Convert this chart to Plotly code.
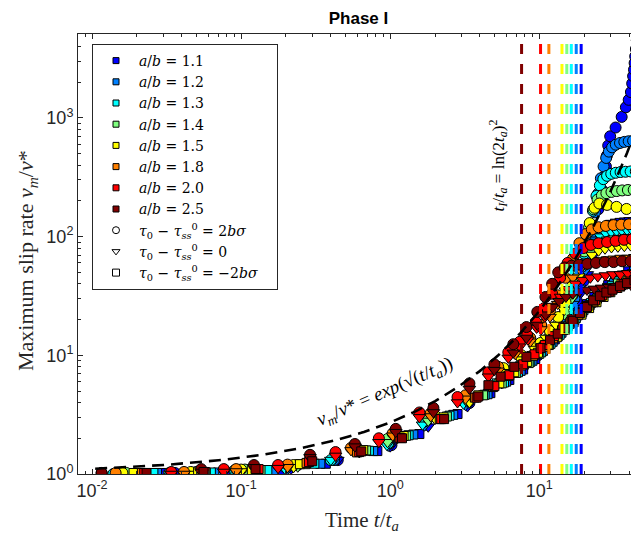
import numpy as np
import plotly.graph_objects as go

# ---------------- data ----------------
ab_values = [1.1, 1.2, 1.3, 1.4, 1.5, 1.8, 2.0, 2.5]
ab_colors = ["#0000ff", "#0080ff", "#00ffff", "#80ff80", "#ffff00", "#ff8000", "#ff0000", "#800000"]
tI_values = [19.1, 17.7, 16.4, 15.3, 14.2, 11.6, 10.2, 7.61]

# circles: tau0 - tau_ss = 2 b sigma
t_circ_11 = [0.0145, 0.036, 0.1, 0.216, 0.445, 1.02, 1.75, 3.4, 5.9, 7.8, 9.8, 11.8, 13.8, 15.8, 17.8, 19.8, 21.6, 23.4, 24.9, 26.2, 27.2, 28.0, 28.4, 29.0, 29.9, 32.5, 35.7, 38.1, 39.8, 41.2, 42.0, 42.6, 43.2, 43.6, 44.0, 44.5, 45.1]
v_circ_11 = [1.0, 1.02, 1.07, 1.15, 1.31, 1.75, 2.6, 3.96, 6.2, 8.0, 10, 12.5, 16, 21, 29, 42, 70, 110, 170, 250, 320, 390, 480, 585, 700, 830, 1020, 1230, 1420, 1650, 1950, 2250, 2550, 2900, 3300, 3800, 4500]
t_circ_12 = [0.0142, 0.034, 0.094, 0.205, 0.42, 0.98, 1.7, 3.3, 5.7, 7.6, 9.5, 11.5, 13.4, 15.3, 17.2, 19.0, 20.7, 22.2, 23.6, 24.8, 25.9, 27.0, 28.1, 29.3, 30.8, 32.6, 34.8, 37.2, 39.8, 42.6, 45.6]
v_circ_12 = [1.0, 1.02, 1.07, 1.15, 1.31, 1.8, 2.7, 4.0, 6.3, 8.2, 10.2, 12.8, 16.5, 22, 30, 44, 68, 105, 160, 230, 310, 390, 460, 520, 565, 595, 615, 628, 636, 642, 646]
t_circ_13 = [0.0139, 0.033, 0.09, 0.197, 0.4, 0.97, 1.68, 3.25, 5.6, 7.5, 9.4, 11.3, 13.1, 14.9, 16.7, 18.4, 20.0, 21.5, 22.9, 24.2, 25.5, 26.9, 28.5, 30.4, 32.6, 35.1, 37.9, 41, 44.4]
v_circ_13 = [1.0, 1.02, 1.07, 1.15, 1.31, 1.82, 2.75, 4.1, 6.4, 8.4, 10.5, 13.2, 17, 23, 32, 47, 72, 110, 165, 220, 270, 305, 325, 338, 345, 350, 352, 354, 355]
t_circ_14 = [0.017, 0.05, 0.106, 0.24, 0.62, 0.96, 1.8, 3.2, 6.0, 7.9, 9.8, 11.5, 13.2, 14.9, 16.6, 18.3, 20.0, 21.6, 23.1, 24.6, 26.3, 28.2, 30.5, 33.1, 36.0, 39.3, 43.0, 47.0]
v_circ_14 = [1.02, 1.04, 1.09, 1.19, 1.6, 1.97, 2.95, 4.45, 7.5, 9.5, 11.5, 14, 18, 24, 33, 48, 75, 120, 170, 205, 222, 232, 238, 242, 245, 247, 248, 249]
t_circ_15 = [0.016, 0.046, 0.1, 0.225, 0.6, 1.12, 2.0, 3.4, 5.75, 7.6, 9.4, 10.2, 11.8, 13.4, 15.0, 16.6, 18.3, 20.0, 21.8, 23.5, 25.3, 28.5, 33.0, 38.5, 45.0]
v_circ_15 = [1.02, 1.04, 1.09, 1.19, 1.62, 2.1, 3.1, 4.3, 7.8, 10, 12, 12.7, 16, 21, 28, 38, 55, 85, 130, 175, 190, 185, 178, 171, 164]
t_circ_18 = [0.0144, 0.0414, 0.0926, 0.205, 0.546, 1.04, 1.87, 3.2, 5.3, 6.9, 8.7, 10.3, 11.8, 13.3, 15.0, 16.8, 18.6, 20.5, 22.5, 25.0, 28.0, 31.5, 35.5, 40.0, 45.0]
v_circ_18 = [1.02, 1.04, 1.1, 1.2, 1.66, 2.2, 3.25, 4.6, 8.0, 11, 14, 18, 24, 32, 45, 65, 88, 105, 115, 120, 123, 125, 126, 127, 128]
t_circ_20 = [0.0116, 0.034, 0.0766, 0.177, 0.43, 0.84, 1.57, 2.83, 4.56, 6.2, 7.4, 8.3, 9.5, 10.8, 12.2, 13.8, 15.5, 17.5, 19.7, 22.2, 25.0, 28.5, 32.5, 37.0, 42.0, 47.0]
v_circ_20 = [1.02, 1.04, 1.1, 1.19, 1.53, 2.0, 3.3, 4.45, 7.2, 10.6, 13, 14.8, 19, 25, 33, 45, 60, 72, 80, 85, 88, 90, 92, 94, 95, 96]
t_circ_25 = [0.0116, 0.054, 0.122, 0.29, 0.58, 1.09, 1.95, 3.4, 5.0, 6.7, 8.2, 9.7, 11.0, 12.2, 13.4, 14.8, 16.5, 18.5, 21.0, 24.0, 27.5, 31.5, 36.0, 41.0, 46.5]
v_circ_25 = [1.02, 1.1, 1.19, 1.45, 1.79, 2.4, 3.6, 5.8, 8.4, 12.4, 17.3, 23.2, 31, 40, 50, 55, 57, 58, 59, 60, 61, 61, 62, 62, 63]

# triangles: tau0 - tau_ss = 0
t_tri_11 = [0.036, 0.1, 0.216, 0.445, 1.0, 1.8, 3.3, 5.6, 7.6, 9.6, 11.6, 13.6, 15.5, 17.4, 19.2, 21.0, 22.8, 24.6, 26.5, 28.5, 30.7, 33.0, 35.5, 38.0, 40.7, 43.5, 46.5]
v_tri_11 = [1.0, 1.03, 1.1, 1.31, 1.7, 2.5, 3.7, 5.8, 7.6, 9.6, 12, 15, 19, 25, 34, 48, 68, 92, 112, 124, 130, 133, 135, 136, 137, 137, 138]
t_tri_12 = [0.034, 0.094, 0.205, 0.42, 0.97, 1.7, 3.2, 5.4, 7.4, 9.3, 11.2, 13.1, 15.0, 16.8, 18.6, 20.4, 22.2, 24.0, 25.9, 27.9, 30.0, 32.4, 35.0, 37.7, 40.5, 43.5, 46.6]
v_tri_12 = [1.0, 1.03, 1.1, 1.31, 1.72, 2.55, 3.8, 5.9, 7.8, 9.8, 12.4, 15.6, 20, 27, 37, 52, 72, 94, 110, 119, 124, 127, 128, 129, 130, 130, 131]
t_tri_13 = [0.033, 0.09, 0.197, 0.4, 0.95, 1.65, 3.1, 5.3, 7.2, 9.1, 11.0, 12.9, 14.7, 16.5, 18.3, 20.1, 21.9, 23.8, 25.8, 28.0, 30.4, 33.0, 35.8, 38.8, 42.0, 45.5]
v_tri_13 = [1.0, 1.03, 1.1, 1.31, 1.75, 2.6, 3.9, 6.0, 8.0, 10.2, 13, 16.5, 22, 30, 41, 56, 74, 90, 100, 106, 109, 111, 112, 113, 113, 114]
t_tri_14 = [0.05, 0.106, 0.24, 0.62, 0.96, 1.8, 3.2, 5.9, 7.8, 9.6, 11.4, 13.1, 14.8, 16.5, 18.2, 20.0, 21.9, 24.0, 26.3, 28.8, 31.6, 34.7, 38.0, 41.6, 45.5]
v_tri_14 = [1.0, 1.05, 1.15, 1.52, 1.85, 2.8, 4.2, 7.0, 9.0, 11, 13.5, 17, 22, 30, 42, 58, 74, 85, 91, 94, 96, 97, 98, 98, 99]
t_tri_15 = [0.046, 0.1, 0.225, 0.6, 1.12, 2.0, 3.4, 5.7, 7.5, 9.3, 11.1, 12.9, 14.7, 16.5, 18.4, 20.4, 22.6, 25.0, 27.6, 30.5, 33.7, 37.2, 41.0, 45.2]
v_tri_15 = [1.0, 1.05, 1.14, 1.55, 2.0, 2.9, 4.0, 7.2, 9.2, 11.3, 14, 18, 24, 33, 46, 60, 70, 76, 79, 81, 82, 83, 84, 84]
t_tri_18 = [0.0414, 0.0926, 0.205, 0.546, 1.04, 1.87, 3.2, 5.3, 6.9, 8.7, 10.3, 11.8, 13.3, 15.0, 16.8, 18.7, 20.8, 23.1, 25.7, 28.6, 31.8, 35.4, 39.4, 43.8]
v_tri_18 = [1.0, 1.05, 1.14, 1.58, 2.1, 3.05, 4.3, 7.4, 10.2, 13, 16.5, 21, 27, 35, 45, 53, 58, 61, 63, 64, 65, 66, 66, 67]
t_tri_20 = [0.034, 0.0766, 0.177, 0.43, 0.84, 1.57, 2.83, 4.56, 6.2, 7.4, 8.4, 9.6, 10.9, 12.3, 13.9, 15.6, 17.5, 19.6, 22.0, 24.7, 27.8, 31.2, 35.0, 39.2, 44.0]
v_tri_20 = [1.0, 1.04, 1.12, 1.42, 1.85, 3.0, 4.0, 6.6, 9.5, 11.8, 13.5, 17, 21, 26, 31, 36, 40, 43, 45, 46, 47, 48, 48, 49, 49]
t_tri_25 = [0.054, 0.122, 0.29, 0.58, 1.09, 1.95, 3.4, 5.0, 6.7, 8.2, 9.7, 11.0, 12.3, 13.6, 15.1, 16.8, 18.7, 20.9, 23.4, 26.2, 29.4, 33.0, 37.0, 41.5, 46.5]
v_tri_25 = [1.04, 1.14, 1.38, 1.7, 2.25, 3.3, 5.2, 7.5, 10.5, 14, 18, 22, 25.5, 28.5, 31, 33, 34.5, 35.5, 36.3, 37, 37.5, 38, 38.4, 38.7, 39]

# squares: tau0 - tau_ss = -2 b sigma
t_sq_11 = [0.0298, 0.079, 0.185, 0.37, 0.82, 1.57, 2.83, 4.7, 6.3, 7.8, 9.4, 11.0, 12.7, 14.5, 16.5, 18.6, 20.9, 23.4, 26.1, 29.0, 32.2, 35.7, 39.5, 43.7]
v_sq_11 = [1.02, 1.03, 1.08, 1.22, 1.56, 2.17, 3.2, 4.8, 6.2, 7.6, 9.3, 11.3, 13.6, 16.3, 19.5, 23, 27, 31, 35, 39, 43, 47, 51, 55]
t_sq_12 = [0.0273, 0.07, 0.165, 0.34, 0.77, 1.43, 2.65, 4.5, 6.0, 7.5, 9.0, 10.6, 12.3, 14.1, 16.0, 18.1, 20.4, 22.9, 25.6, 28.5, 31.7, 35.2, 39.0, 43.2, 47.5]
v_sq_12 = [1.02, 1.03, 1.08, 1.22, 1.56, 2.15, 3.15, 4.7, 6.0, 7.4, 9.0, 10.9, 13.0, 15.5, 18.4, 21.7, 25.3, 29, 33, 37, 40.5, 44, 47.5, 51, 54]
t_sq_13 = [0.0258, 0.0627, 0.15, 0.31, 0.72, 1.33, 2.5, 4.3, 5.8, 7.2, 8.7, 10.3, 11.9, 13.7, 15.6, 17.6, 19.8, 22.2, 24.8, 27.6, 30.7, 34.1, 37.8, 41.9, 46.3]
v_sq_13 = [1.02, 1.03, 1.08, 1.22, 1.57, 2.12, 3.1, 4.65, 5.9, 7.2, 8.8, 10.6, 12.5, 14.9, 17.6, 20.6, 24, 27.6, 31.2, 35, 38.5, 42, 45.3, 48.5, 51.5]
t_sq_14 = [0.0205, 0.058, 0.135, 0.27, 0.69, 1.28, 2.4, 4.2, 5.6, 7.0, 8.5, 10.0, 11.6, 13.3, 15.2, 17.2, 19.4, 21.8, 24.4, 27.2, 30.3, 33.7, 37.4, 41.5, 46.0]
v_sq_14 = [1.02, 1.03, 1.08, 1.21, 1.58, 2.1, 3.05, 4.6, 5.8, 7.1, 8.6, 10.3, 12.2, 14.4, 17, 19.9, 23, 26.5, 30, 33.5, 37, 40.3, 43.5, 46.5, 49.5]
t_sq_15 = [0.019, 0.0515, 0.118, 0.248, 0.66, 1.23, 2.28, 3.9, 5.4, 6.8, 8.3, 9.8, 11.4, 13.1, 15.0, 17.0, 19.2, 21.6, 24.2, 27.0, 30.0, 33.5, 37.5, 42.0, 47.0]
v_sq_15 = [1.02, 1.03, 1.08, 1.21, 1.59, 2.09, 3.0, 4.6, 5.8, 7.2, 8.8, 10.5, 12.3, 14.2, 16.5, 19, 22, 25, 28, 31, 34, 37, 40, 43, 46]
t_sq_18 = [0.0216, 0.0555, 0.128, 0.275, 0.6, 1.15, 2.15, 3.7, 4.9, 6.2, 7.6, 9.1, 10.7, 12.4, 14.2, 16.2, 18.3, 20.6, 23.1, 25.8, 28.8, 32.0, 35.6, 39.6, 44.0]
v_sq_18 = [1.02, 1.03, 1.09, 1.24, 1.52, 2.02, 2.9, 4.4, 5.4, 6.7, 8.2, 9.9, 11.8, 13.9, 16.3, 19, 22, 25, 28, 31, 34, 37, 40, 42.5, 45]
t_sq_20 = [0.0224, 0.057, 0.131, 0.285, 0.62, 1.17, 2.2, 3.8, 5.0, 6.3, 7.8, 9.3, 10.9, 12.6, 14.5, 16.5, 18.7, 21.1, 23.7, 26.5, 29.6, 33.0, 36.7, 40.8, 45.3]
v_sq_20 = [1.02, 1.04, 1.1, 1.26, 1.53, 2.02, 2.9, 4.4, 5.5, 6.8, 8.4, 10.2, 12.2, 14.5, 17.2, 20, 23, 26, 29, 32, 34.5, 37, 39.5, 41.8, 44]
t_sq_25 = [0.0232, 0.056, 0.125, 0.3, 0.64, 1.2, 2.3, 3.9, 4.56, 5.5, 6.8, 8.2, 10.2, 11.8, 13.3, 14.9, 16.8, 18.8, 20.9, 23.0, 25.5, 28.2, 31.0, 34.8, 38.8, 43.5]
v_sq_25 = [1.02, 1.04, 1.1, 1.28, 1.55, 2.0, 2.9, 4.5, 5.6, 6.6, 8.0, 9.7, 11.5, 13.4, 15.2, 17, 19.5, 22.7, 25.5, 29, 31.5, 33.8, 35.7, 38.2, 40.6, 43]

circ_t = [t_circ_11, t_circ_12, t_circ_13, t_circ_14, t_circ_15, t_circ_18, t_circ_20, t_circ_25]
circ_v = [v_circ_11, v_circ_12, v_circ_13, v_circ_14, v_circ_15, v_circ_18, v_circ_20, v_circ_25]
tri_t = [t_tri_11, t_tri_12, t_tri_13, t_tri_14, t_tri_15, t_tri_18, t_tri_20, t_tri_25]
tri_v = [v_tri_11, v_tri_12, v_tri_13, v_tri_14, v_tri_15, v_tri_18, v_tri_20, v_tri_25]
sq_t = [t_sq_11, t_sq_12, t_sq_13, t_sq_14, t_sq_15, t_sq_18, t_sq_20, t_sq_25]
sq_v = [v_sq_11, v_sq_12, v_sq_13, v_sq_14, v_sq_15, v_sq_18, v_sq_20, v_sq_25]

# analytic curve v_m/v* = exp(sqrt(t/t_a)), evaluated on these times
t_curve = np.logspace(np.log10(0.0105), np.log10(48.0), 200)
v_curve = np.exp(np.sqrt(t_curve))

x_tickvals = [0.01, 0.1, 1, 10]
x_ticktext = ["10<sup>-2</sup>", "10<sup>-1</sup>", "10<sup>0</sup>", "10<sup>1</sup>"]
y_tickvals = [1, 10, 100, 1000]
y_ticktext = ["10<sup>0</sup>", "10<sup>1</sup>", "10<sup>2</sup>", "10<sup>3</sup>"]

# ---------------- figure ----------------
# the page body adds an 8 px margin, so the figure is 8 px smaller than the window
OFF = 8
W, H = 639 - OFF, 543 - OFF
ML, MR, MT, MB = 78 - OFF, 0, 34 - OFF, 69
XR = [-2.094, 1.669]
YR = [0.0, 3.707]
AX = "#262626"
SERIF = "Liberation Serif, Times New Roman, serif"
WSERIF = "DejaVu Serif, serif"
SANS = "Liberation Sans, Arial, Helvetica, sans-serif"
PW = W - ML - MR
PH = H - MT - MB

fig = go.Figure()

# data markers
for i, col in enumerate(ab_colors):
    fig.add_trace(go.Scatter(x=circ_t[i], y=circ_v[i], mode="markers", showlegend=False,
                             marker=dict(symbol="circle", size=11, color=col, line=dict(color="black", width=1))))
    fig.add_trace(go.Scatter(x=tri_t[i], y=tri_v[i], mode="markers", showlegend=False,
                             marker=dict(symbol="triangle-down", size=11, color=col, line=dict(color="black", width=1))))
    fig.add_trace(go.Scatter(x=sq_t[i], y=sq_v[i], mode="markers", showlegend=False,
                             marker=dict(symbol="square", size=9, color=col, line=dict(color="black", width=1))))

# t_I dashed verticals
for col, tI in zip(ab_colors, tI_values):
    fig.add_trace(go.Scatter(x=[tI, tI], y=[1, 10 ** YR[1]], mode="lines", showlegend=False,
                             line=dict(color=col, width=3, dash="10px,10px")))

# analytic curve
fig.add_trace(go.Scatter(x=t_curve, y=v_curve, mode="lines", showlegend=False,
                         line=dict(color="black", width=2.6, dash="12px,7px")))

# legend entries
PADR = "\u2002\u2002"
for ab, col in zip(ab_values, ab_colors):
    fig.add_trace(go.Scatter(x=[None], y=[None], mode="markers", name=f"<i>a</i>/<i>b</i> = {ab:.1f}",
                             marker=dict(symbol="square", size=6, color=col, line=dict(color="black", width=1))))
legend_shapes = [("circle", "<i>τ</i><sub>0</sub> − <i>τ</i><sub><i>ss</i></sub><sup>0</sup> = 2<i>bσ</i>"),
                 ("triangle-down", "<i>τ</i><sub>0</sub> − <i>τ</i><sub><i>ss</i></sub><sup>0</sup> = 0"),
                 ("square", "<i>τ</i><sub>0</sub> − <i>τ</i><sub><i>ss</i></sub><sup>0</sup> = −2<i>bσ</i>" + PADR)]
for sym, name in legend_shapes:
    fig.add_trace(go.Scatter(x=[None], y=[None], mode="markers", name=name,
                             marker=dict(symbol=sym, size=7, color="white", line=dict(color="black", width=1))))

minor_x = [m * 10.0 ** k for k in range(-3, 2) for m in range(2, 10)]
minor_y = [m * 10.0 ** k for k in range(0, 4) for m in range(2, 10)]

fig.update_layout(
    width=W, height=H,
    margin=dict(l=ML, r=MR, t=MT, b=MB),
    paper_bgcolor="white", plot_bgcolor="white",
    title=dict(text="<b>Phase I</b>", x=0.5, xref="paper", y=1 - (18.5 - OFF) / H, yanchor="middle",
               font=dict(family=SANS, size=17, color="black")),
    legend=dict(x=(92 - 78) / PW, y=(474 - 44) / PH, xanchor="left", yanchor="top",
                bgcolor="white", bordercolor=AX, borderwidth=1,
                font=dict(family=WSERIF, size=14, color="black"), tracegroupgap=0, itemwidth=36),
    showlegend=True,
)
fig.update_xaxes(type="log", range=XR, showgrid=False, zeroline=False,
                 showline=True, linecolor=AX, linewidth=1, mirror="ticks",
                 ticks="inside", ticklen=5, tickcolor=AX, tickwidth=1,
                 tickvals=x_tickvals, ticktext=x_ticktext,
                 tickfont=dict(family=SANS, size=18, color=AX),
                 minor=dict(tickvals=minor_x, ticks="inside", ticklen=3, tickcolor=AX, showgrid=False))
fig.update_yaxes(type="log", range=YR, showgrid=False, zeroline=False,
                 showline=True, linecolor=AX, linewidth=1, mirror=False,
                 ticks="inside", ticklen=5, tickcolor=AX, tickwidth=1,
                 tickvals=y_tickvals, ticktext=y_ticktext,
                 tickfont=dict(family=SANS, size=18, color=AX),
                 minor=dict(tickvals=minor_y, ticks="inside", ticklen=3, tickcolor=AX, showgrid=False))

# axis titles
fig.add_annotation(text="Time <i>t</i>/<i>t<sub>a</sub></i>", xref="paper", yref="paper",
                   x=(362 - 78) / PW, y=0, yanchor="middle", yshift=-(521 - 474), showarrow=False,
                   font=dict(family=SERIF, size=21, color=AX))
fig.add_annotation(text="Maximum slip rate <i>v<sub>m</sub></i>/<i>v</i>*", xref="paper", yref="paper",
                   x=0, y=(474 - 261) / PH, xanchor="center", xshift=-(78 - 27), textangle=-90, showarrow=False,
                   font=dict(family=SERIF, size=22, color=AX))

# in-plot labels
fig.add_annotation(text="<i>v<sub>m</sub></i>/<i>v</i>* = <i>exp</i>(√(<i>t</i>/<i>t<sub>a</sub></i>))",
                   x=np.log10(0.93), y=np.log10(4.9), xref="x", yref="y", textangle=-23.5, showarrow=False,
                   font=dict(family=SERIF, size=19, color="black"))
fig.add_annotation(text="<i>t<sub>I</sub></i>/<i>t<sub>a</sub></i> = ln(2<i>t<sub>a</sub></i>)<sup>2</sup>",
                   x=np.log10(5.3), y=2.6, xref="x", yref="y", textangle=-90, showarrow=False,
                   font=dict(family=SERIF, size=17, color="black"))

fig.write_html("out.html")
